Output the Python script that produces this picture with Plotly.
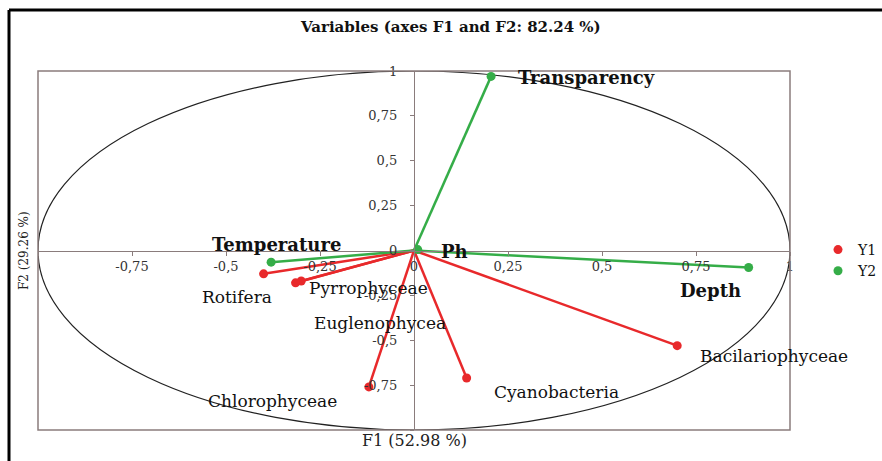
import plotly.graph_objects as go

# Correlation circle: variable coordinates on the first two factors
y1_names = ["Rotifera", "Pyrrophyceae", "Euglenophycea", "Chlorophyceae", "Cyanobacteria", "Bacilariophyceae"]
y1_f1 = [-0.40, -0.315, -0.30, -0.12, 0.14, 0.70]
y1_f2 = [-0.13, -0.18, -0.17, -0.76, -0.71, -0.53]

y2_names = ["Transparency", "Temperature", "Ph", "Depth"]
y2_f1 = [0.205, -0.38, 0.01, 0.89]
y2_f2 = [0.97, -0.065, 0.005, -0.095]

tick_vals = [-1, -0.75, -0.5, -0.25, 0, 0.25, 0.5, 0.75, 1]
tick_text = ["", "-0,75", "-0,5", "-0,25", "0", "0,25", "0,5", "0,75", "1"]

title_text = "Variables (axes F1 and F2: 82.24 %)"
x_title = "F1 (52.98 %)"
y_title = "F2 (29.26 %)"

# label placement in pixels relative to each point
y1_label_shift = [(-27, -23), (73, -5), (79, -42), (-96, -14), (90, -14), (97, -10)]
y2_label_shift = [(95, -1), (5, 18), (37, -2), (-38, -23)]

RED = "#e8292b"
GREEN = "#35ad48"
AXIS = "#8a7c7c"
SERIF = "DejaVu Serif, serif"


def vectors(xs, ys):
    lx, ly = [], []
    for x, y in zip(xs, ys):
        lx += [0, x, None]
        ly += [0, y, None]
    return lx, ly


fig = go.Figure()

for name, xs, ys, col in [("Y1", y1_f1, y1_f2, RED), ("Y2", y2_f1, y2_f2, GREEN)]:
    lx, ly = vectors(xs, ys)
    fig.add_trace(go.Scatter(x=lx, y=ly, mode="lines", line=dict(color=col, width=2.5),
                             showlegend=False, hoverinfo="skip"))
for name, xs, ys, col, labels in [("Y1", y1_f1, y1_f2, RED, y1_names),
                                   ("Y2", y2_f1, y2_f2, GREEN, y2_names)]:
    fig.add_trace(go.Scatter(x=xs, y=ys, mode="markers", name=name, text=labels,
                             marker=dict(color=col, size=9)))

annotations = []
for names, xs, ys, shifts, bold in [(y1_names, y1_f1, y1_f2, y1_label_shift, False),
                                     (y2_names, y2_f1, y2_f2, y2_label_shift, True)]:
    for n, x, y, (dx, dy) in zip(names, xs, ys, shifts):
        annotations.append(dict(
            x=x, y=y, xref="x", yref="y", text=f"<b>{n}</b>" if bold else n,
            showarrow=False, xshift=dx, yshift=dy, xanchor="center", yanchor="middle",
            font=dict(family=SERIF, size=18 if bold else 17, color="#111")))

W, H = 882, 461
L, R, T, B = 38, 92, 71, 31
pw, ph = W - L - R, H - T - B


def px(xp):
    return (xp - L) / pw


def py(yp):
    return (H - B - yp) / ph


annotations.append(dict(x=px(450), y=py(27), xref="paper", yref="paper", showarrow=False,
                        xanchor="center", yanchor="middle",
                        text=f"<b>{title_text}</b>", font=dict(family=SERIF, size=15, color="#111")))
annotations.append(dict(x=px(414), y=py(440), xref="paper", yref="paper", showarrow=False,
                        xanchor="center", yanchor="middle",
                        text=x_title, font=dict(family=SERIF, size=16, color="#222")))
annotations.append(dict(x=px(24), y=py(251), xref="paper", yref="paper", showarrow=False,
                        xanchor="center", yanchor="middle",
                        text=y_title, textangle=-90, font=dict(family=SERIF, size=12, color="#222")))

shapes = [
    # unit correlation circle
    dict(type="circle", xref="x", yref="y", x0=-1, y0=-1, x1=1, y1=1,
         line=dict(color="#222", width=1.2), layer="below"),
    # plot area frame
    dict(type="rect", xref="paper", yref="paper", x0=0, y0=0, x1=1, y1=1,
         line=dict(color=AXIS, width=1.5)),
    # outer figure frame (top and left edges)
    dict(type="line", xref="paper", yref="paper", x0=px(9), y0=py(10), x1=px(W + 5), y1=py(10),
         line=dict(color="#000", width=3)),
    dict(type="line", xref="paper", yref="paper", x0=px(9), y0=py(10), x1=px(9), y1=py(H + 5),
         line=dict(color="#000", width=3)),
]

axis_common = dict(range=[-1, 1], tickvals=tick_vals, ticktext=tick_text, showgrid=False,
                   zeroline=False, showline=True, linecolor=AXIS, linewidth=1.2,
                   ticks="outside", ticklen=4, tickcolor=AXIS, anchor="free", position=0.5,
                   tickfont=dict(family=SERIF, size=13, color="#333"))

fig.update_layout(
    width=W, height=H,
    margin=dict(l=L, r=R, t=T, b=B, autoexpand=False),
    paper_bgcolor="white", plot_bgcolor="white",
    xaxis=dict(**axis_common),
    yaxis=dict(**axis_common, ticklabelstandoff=10),
    annotations=annotations,
    shapes=shapes,
    legend=dict(x=px(818), y=py(234), xanchor="left", yanchor="top",
                font=dict(family=SERIF, size=14, color="#111"),
                tracegroupgap=0, itemwidth=30, bgcolor="rgba(0,0,0,0)"),
    showlegend=True,
)

fig.write_html("out.html")
